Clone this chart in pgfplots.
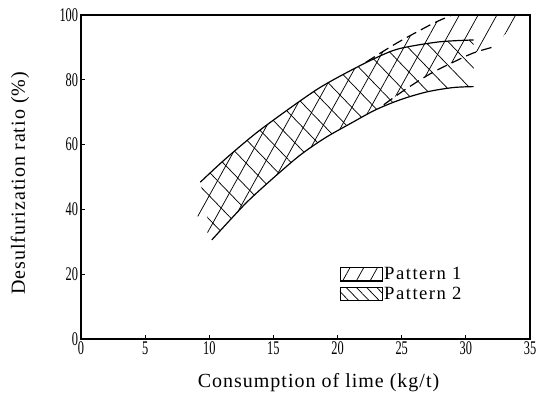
\documentclass[border=0pt]{standalone}
\usepackage{fontspec}
\setmainfont{Liberation Serif}
\newfontfamily\labfont[LetterSpace=5]{Liberation Serif}
\newfontfamily\legfont[LetterSpace=8]{Liberation Serif}
\newfontfamily\tickfont[FakeStretch=0.64]{Liberation Serif}
\usepackage{pgfplots}
\pgfplotsset{compat=1.18}
\usepgfplotslibrary{fillbetween}
\usetikzlibrary{patterns.meta}

\tikzset{
  pat1/.style={pattern={Lines[angle=61,distance=12.3pt,line width=0.55pt]}},
  pat2/.style={pattern={Lines[angle=-46,distance=12.3pt,line width=0.55pt]}},
}

\begin{document}
\begin{tikzpicture}
\begin{axis}[
    at={(0pt,0pt)}, anchor=origin,
    scale only axis,
    width=336.75pt, height=243pt,
    xmin=0, xmax=35,
    ymin=0, ymax=100,
    xtick={0,5,...,35},
    ytick={0,20,...,100},
    tick align=inside,
    xtick pos=bottom, ytick pos=left,
    major tick length=3pt,
    axis line style={line width=0.9pt},
    tick style={line width=0.6pt, black},
    /pgf/number format/assume math mode=true,
    ticklabel style={font=\tickfont\fontsize{14.5}{14.5}\selectfont, inner sep=2pt},
    xlabel={Consumption of lime (kg/t)},
    ylabel={Desulfurization ratio (\%)},
    label style={font=\labfont\fontsize{15}{15}\selectfont},
    xlabel style={at={(axis description cs:0.529,-0.136)}, anchor=center},
    ylabel style={at={(axis description cs:-0.136,0.48)}, anchor=center},
    legend style={at={(axis description cs:0.566,0.235)}, anchor=north west,
        draw=none, fill=none, row sep=2pt,
        font=\legfont\fontsize{14}{14}\selectfont,
        nodes={inner sep=1pt}},
    legend cell align=left,
]

% legend swatches
\addlegendimage{legend image code/.code={
    \path[pattern={Lines[angle=61,distance=9pt,line width=0.55pt]}] (0pt,-4.9pt) rectangle (32pt,4.9pt);
    \draw[line width=0.6pt] (0pt,-4.9pt) -- (32pt,-4.9pt);
    \draw[line width=0.6pt, dash pattern=on 6pt off 4pt] (0pt,4.9pt) -- (32pt,4.9pt);
}}
\addlegendentry{Pattern 1}
\addlegendimage{legend image code/.code={
    \path[pattern={Lines[angle=-46,distance=5.5pt,line width=0.55pt]}] (0pt,-4.9pt) rectangle (32pt,4.9pt);
    \draw[line width=0.6pt] (0pt,-4.9pt) -- (32pt,-4.9pt) (0pt,4.9pt) -- (32pt,4.9pt);
}}
\addlegendentry{Pattern 2}

% Pattern 1 band limits
\addplot[draw=none, name path=T1, forget plot] coordinates {
    (8.8,44.2) (9.3,48.4) (11.15,55.2) (13.6,63.4) (16.2,71) (18.5,77.3)
    (20.6,82) (22.2,85.4) (24.6,91.3) (27.2,96.9) (28.5,99.3) (29,100) (34.4,100)
};
\addplot[draw=none, name path=B1, forget plot] coordinates {
    (8.8,44.2) (9.0,38.5) (10.2,30.6) (11.8,37.5) (13,42.5) (14.65,48.5)
    (17,56.5) (19,62) (21,66.5) (23,70.8) (23.6,72.3) (25.2,76.8)
    (27.2,81.8) (29.1,85.6) (30.6,88.3) (32.2,90.2) (34.4,100)
};
\addplot[draw=none, pat1, forget plot] fill between[of=T1 and B1];

% Pattern 2 band
\addplot[smooth, line width=0.9pt, name path=U2, forget plot] coordinates {
    (9.3,48.4) (11.15,55.2) (13.6,63.4) (16.2,71) (18.5,77.3) (20.6,82)
    (22.9,86.6) (24.8,89.6) (27.9,91.7) (30.6,92.3)
};
\addplot[smooth, line width=0.9pt, name path=L2, forget plot] coordinates {
    (10.2,30.6) (11.8,37.5) (13,42.5) (14.65,48.5) (17,56.5) (19,62)
    (21,66.5) (23,70.8) (25,74) (27,76.3) (29,77.6) (30.6,77.9)
};
\addplot[draw=none, pat2, forget plot] fill between[of=U2 and L2];

% dashed limits of pattern 1
\addplot[smooth, line width=0.9pt, dash pattern=on 8pt off 4pt, forget plot] coordinates {
    (22.2,85.4) (24.6,91.3) (27.2,96.9) (28.5,99.3) (29.2,100.5)
};
\addplot[smooth, line width=0.9pt, dash pattern=on 8pt off 4pt, forget plot] coordinates {
    (23.6,72.3) (25.2,76.8) (27.2,81.8) (29.1,85.6) (30.6,88.3) (32.2,90.2)
};
\end{axis}
\path (-60.75pt,-48.75pt) rectangle (344.25pt,254.25pt);
\end{tikzpicture}
\end{document}
